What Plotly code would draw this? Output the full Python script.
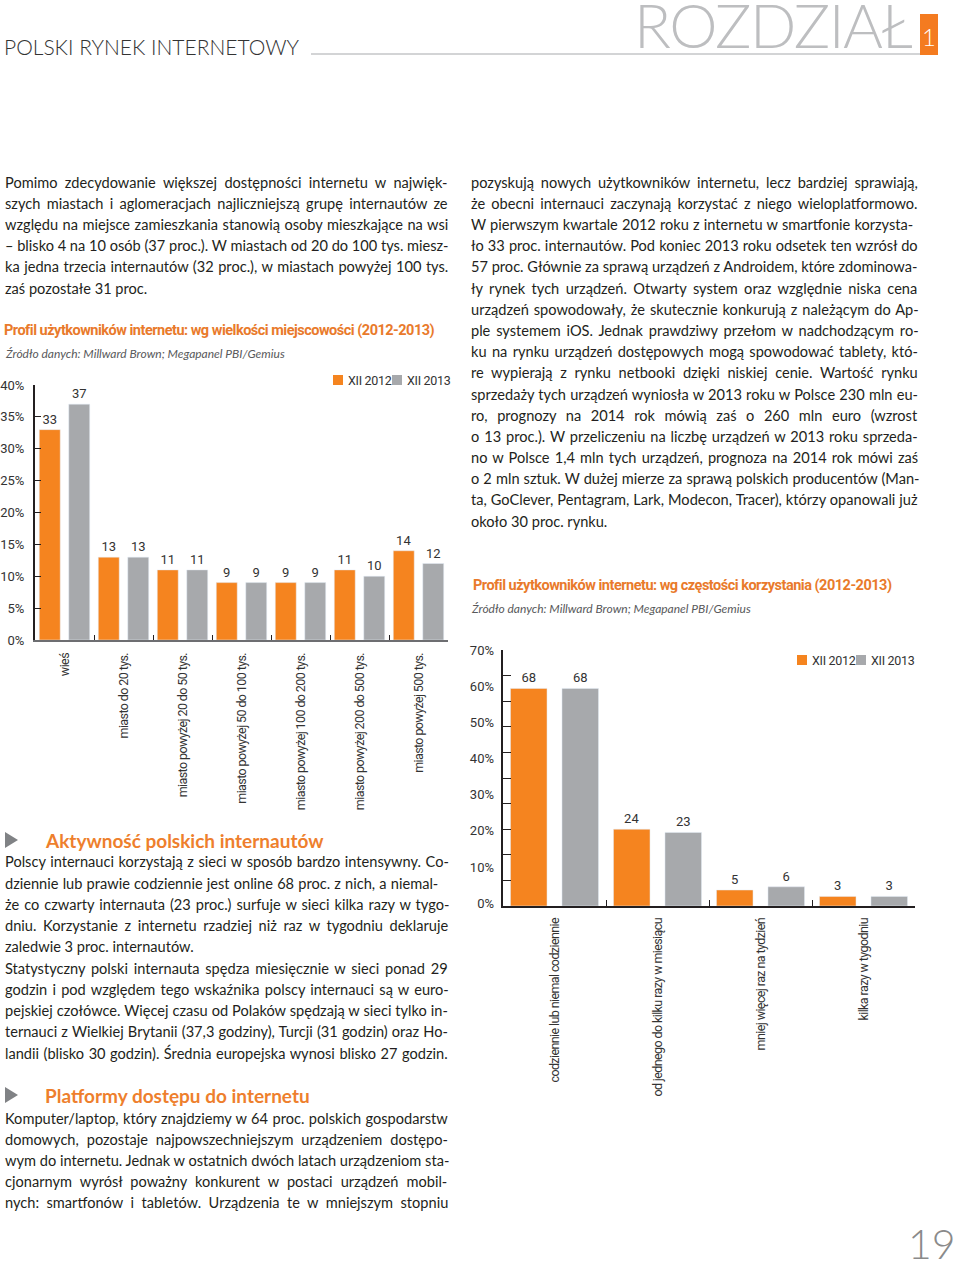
import plotly.graph_objects as go

# ---------------- data ----------------
cat_place = ["wieś", "miasto do 20 tys.", "miasto powyżej 20 do 50 tys.",
             "miasto powyżej 50 do 100 tys.", "miasto powyżej 100 do 200 tys.",
             "miasto powyżej 200 do 500 tys.", "miasto powyżej 500 tys."]
place_2012 = [33, 13, 11, 9, 9, 11, 14]
place_2013 = [37, 13, 11, 9, 9, 10, 12]

cat_freq = ["codziennie lub niemal codziennie", "od jednego do kilku razy w miesiącu",
            "mniej więcej raz na tydzień", "kilka razy w tygodniu"]
freq_2012 = [68, 24, 5, 3]
freq_2013 = [68, 23, 6, 3]

series_names = ["XII 2012", "XII 2013"]
freq_axis_labels = [0, 10, 20, 30, 40, 50, 60, 70]

para_intro = [
    "Pomimo zdecydowanie większej dostępności internetu w najwięk-",
    "szych miastach i aglomeracjach najliczniejszą grupę internautów ze",
    "względu na miejsce zamieszkania stanowią osoby mieszkające na wsi",
    "– blisko 4 na 10 osób (37 proc.). W miastach od 20 do 100 tys. miesz-",
    "ka jedna trzecia internautów (32 proc.), w miastach powyżej 100 tys.",
    "zaś pozostałe 31 proc.",
]
para_right = [
    "pozyskują nowych użytkowników internetu, lecz bardziej sprawiają,",
    "że obecni internauci zaczynają korzystać z niego wieloplatformowo.",
    "W pierwszym kwartale 2012 roku z internetu w smartfonie korzysta-",
    "ło 33 proc. internautów. Pod koniec 2013 roku odsetek ten wzrósł do",
    "57 proc. Głównie za sprawą urządzeń z Androidem, które zdominowa-",
    "ły rynek tych urządzeń. Otwarty system oraz względnie niska cena",
    "urządzeń spowodowały, że skutecznie konkurują z należącym do Ap-",
    "ple systemem iOS. Jednak prawdziwy przełom w nadchodzącym ro-",
    "ku na rynku urządzeń dostępowych mogą spowodować tablety, któ-",
    "re wypierają z rynku netbooki dzięki niskiej cenie. Wartość rynku",
    "sprzedaży tych urządzeń wyniosła w 2013 roku w Polsce 230 mln eu-",
    "ro, prognozy na 2014 rok mówią zaś o 260 mln euro (wzrost",
    "o 13 proc.). W przeliczeniu na liczbę urządzeń w 2013 roku sprzeda-",
    "no w Polsce 1,4 mln tych urządzeń, prognoza na 2014 rok mówi zaś",
    "o 2 mln sztuk. W dużej mierze za sprawą polskich producentów (Man-",
    "ta, GoClever, Pentagram, Lark, Modecon, Tracer), którzy opanowali już",
    "około 30 proc. rynku.",
]
para_activity = [
    "Polscy internauci korzystają z sieci w sposób bardzo intensywny. Co-",
    "dziennie lub prawie codziennie jest online 68 proc. z nich, a niemal-",
    "że co czwarty internauta (23 proc.) surfuje w sieci kilka razy w tygo-",
    "dniu. Korzystanie z internetu rzadziej niż raz w tygodniu deklaruje",
    "zaledwie 3 proc. internautów.",
    "Statystyczny polski internauta spędza miesięcznie w sieci ponad 29",
    "godzin i pod względem tego wskaźnika polscy internauci są w euro-",
    "pejskiej czołówce. Więcej czasu od Polaków spędzają w sieci tylko in-",
    "ternauci z Wielkiej Brytanii (37,3 godziny), Turcji (31 godzin) oraz Ho-",
    "landii (blisko 30 godzin). Średnia europejska wynosi blisko 27 godzin.",
]
para_platforms = [
    "Komputer/laptop, który znajdziemy w 64 proc. polskich gospodarstw",
    "domowych, pozostaje najpowszechniejszym urządzeniem dostępo-",
    "wym do internetu. Jednak w ostatnich dwóch latach urządzeniom sta-",
    "cjonarnym wyrósł poważny konkurent w postaci urządzeń mobil-",
    "nych: smartfonów i tabletów. Urządzenia te w mniejszym stopniu",
]

# ---------------- style ----------------
W, H = 960, 1270
ORANGE = "#F5841F"
GREY = "#A7A9AC"
COLORS = [ORANGE, GREY]
TITLE_OR = "#E97A2B"
TXT = "#231F20"
COND = "Roboto, Liberation Sans, sans-serif"
BODY = "Lato, Open Sans, sans-serif"

# justification: natural right end of each set line (px, Lato 14.6) and column edge;
# None = last line of a paragraph (left ragged)
intro_ends = [426, 430, 442, 448, 440, None]
right_ends = [898, 900, 913, 913, 917, 893, 907, 900, 904, 882, 912, 853, 904, 900, 913, 915, None]
activity_ends = [440, 443, 433, 422, None, 432, 433, 446, 444, 441]
platform_ends = [443, 431, 449, 418, 418]
LEFT_EDGE, RIGHT_EDGE = 448, 917


def px(x):
    return x / W


def py(y):
    return 1 - y / H


def tight(s, ls):
    return f"<span style='letter-spacing:{ls}px'>{s}</span>"


fig = go.Figure()

lab_font = dict(family=COND, size=13, color="#333333")

# chart 1
for name, vals, col in zip(series_names, [place_2012, place_2013], COLORS):
    fig.add_trace(go.Bar(x=cat_place, y=vals, name=name, marker_color=col,
                         text=vals, textposition="outside", textfont=lab_font,
                         cliponaxis=False, xaxis="x", yaxis="y", showlegend=False))
# chart 2
for name, vals, col in zip(series_names, [freq_2012, freq_2013], COLORS):
    fig.add_trace(go.Bar(x=cat_freq, y=vals, name=name, marker_color=col,
                         text=vals, textposition="outside", textfont=lab_font,
                         cliponaxis=False, xaxis="x2", yaxis="y2", showlegend=False))
# invisible helper trace for the labelled percentage axis of chart 2
fig.add_trace(go.Scatter(x=[cat_freq[0]], y=[0], mode="markers", marker_opacity=0,
                         showlegend=False, hoverinfo="skip", xaxis="x2", yaxis="y3"))

tick_font = dict(family=COND, size=12.5, color="#333333")

fig.update_layout(
    width=W, height=H, margin=dict(l=0, r=0, t=0, b=0, autoexpand=False),
    paper_bgcolor="white", plot_bgcolor="white", showlegend=False,
    barmode="group", bargap=0.0, bargroupgap=0.29,
    xaxis=dict(domain=[px(35), px(448)], type="category", tickangle=-90,
               tickvals=cat_place, ticktext=[tight(c, -0.6) for c in cat_place],
               tickson="boundaries", ticks="inside", ticklen=5, tickcolor="#231F20",
               showline=True, linecolor="#6D6E71", linewidth=2, layer="below traces",
               tickfont=tick_font, showgrid=False, ticklabelstandoff=6),
    yaxis=dict(domain=[py(640), py(385)], range=[0, 40], dtick=5, ticksuffix="%",
               ticks="inside", ticklen=6, tickcolor="#231F20",
               showline=True, linecolor="#231F20", linewidth=2, showgrid=False,
               zeroline=False, tickfont=dict(family=COND, size=13, color="#333333"),
               ticklabelstandoff=6),
    xaxis2=dict(domain=[px(503), px(915)], type="category", tickangle=-90,
                tickvals=cat_freq, ticktext=[tight(c, -0.6) for c in cat_freq],
                tickson="boundaries", ticks="inside", ticklen=6, tickcolor="#231F20",
                showline=True, linecolor="#231F20", linewidth=2, layer="below traces",
                tickfont=tick_font, showgrid=False, ticklabelstandoff=5, anchor="y2"),
    yaxis2=dict(domain=[py(906), py(650)], range=[0, 80], dtick=8, tick0=0,
                ticks="inside", ticklen=8, tickcolor="#231F20", showticklabels=False,
                showline=True, linecolor="#231F20", linewidth=2, showgrid=False,
                zeroline=False, anchor="x2"),
    yaxis3=dict(domain=[py(906), py(650)], overlaying="y2", anchor="x2", side="left",
                range=[-0.8, 70], tickvals=freq_axis_labels,
                ticktext=[f"{v}%" for v in freq_axis_labels], ticks="",
                showline=False, showgrid=False, zeroline=False,
                tickfont=dict(family=COND, size=13, color="#333333"), ticklabelstandoff=8),
)

ann = []
shapes = []


def text(x, y, s, size=14.6, color=TXT, family=BODY, anchor="left", weight=None, style=None,
         vanchor="middle"):
    f = dict(family=family, size=size, color=color)
    if weight is not None:
        f["weight"] = weight
    if style is not None:
        f["style"] = style
    ann.append(dict(x=px(x), y=py(y), xref="paper", yref="paper", text=s, showarrow=False,
                    xanchor=anchor, yanchor=vanchor, font=f, borderpad=0))


def lines(block, ends, edge, x, y0, dy=21.2):
    for i, (s, e) in enumerate(zip(block, ends)):
        n = s.count(" ")
        if e is not None and n and e < edge:
            ws = min((edge - e) / n, 9)
            s = f"<span style='word-spacing:{ws:.2f}px'>{s}</span>"
        text(x, y0 + i * dy, s)


def legend(x0, y0, step):
    for i, (name, col) in enumerate(zip(series_names, COLORS)):
        xs = x0 + i * step
        shapes.append(dict(type="rect", xref="paper", yref="paper", x0=px(xs), x1=px(xs + 10),
                           y0=py(y0 + 5), y1=py(y0 - 5), fillcolor=col, line=dict(width=0)))
        text(xs + 14, y0, tight(name, -0.3), size=12.5, color="#333333", family=COND)


# header
text(3, 47, "POLSKI RYNEK INTERNETOWY", size=21, color="#333333", weight=300)
text(913, 24, tight("ROZDZIAŁ", -1.5), size=61, color="#BDBEC0", weight=300, anchor="right")
text(929, 37, "1", size=24, color="white", weight=300, anchor="center")
text(957, 1269, "19", size=41, color="#8A8A8A", weight=300, anchor="right", vanchor="bottom")

# body text
lines(para_intro, intro_ends, LEFT_EDGE, 4, 182)
lines(para_right, right_ends, RIGHT_EDGE, 470, 182)
lines(para_activity, activity_ends, LEFT_EDGE, 4, 862)
lines(para_platforms, platform_ends, LEFT_EDGE, 4, 1118)

# chart titles
text(3, 330, tight("Profil użytkowników internetu: wg wielkości miejscowości (2012-2013)", -0.5),
     size=14.5, color=TITLE_OR, family=COND, weight="bold")
text(4, 353, "Źródło danych: Millward Brown; Megapanel PBI/Gemius", size=12,
     color="#58595B", style="italic")
text(472, 585, tight("Profil użytkowników internetu: wg częstości korzystania (2012-2013)", -0.5),
     size=14.5, color=TITLE_OR, family=COND, weight="bold")
text(470, 608, "Źródło danych: Millward Brown; Megapanel PBI/Gemius", size=12,
     color="#58595B", style="italic")

# legends
legend(333, 380, 59)
legend(797, 660, 59)

# section headings
text(44, 840, "Aktywność polskich internautów", size=19, color="#EE7F2D", weight="bold")
text(44, 1095, "Platformy dostępu do internetu", size=19, color="#EE7F2D", weight="bold")

shapes += [
    dict(type="line", xref="paper", yref="paper", x0=px(311), x1=px(920), y0=py(54), y1=py(54),
         line=dict(color="#A7A9AC", width=1)),
    dict(type="rect", xref="paper", yref="paper", x0=px(920), x1=px(938), y0=py(55), y1=py(14),
         fillcolor="#F47B20", line=dict(width=0), layer="below"),
]
for ty in (840, 1095):
    shapes.append(dict(type="path", xref="paper", yref="paper",
                       path=f"M {px(5)},{py(ty - 8)} L {px(18)},{py(ty)} L {px(5)},{py(ty + 8)} Z",
                       fillcolor="#808285", line=dict(width=0)))

fig.update_layout(annotations=ann, shapes=shapes)

# the page itself should not add its default 8px body margin around the figure
fig.write_html("out.html",
               config={"displayModeBar": False, "staticPlot": True},
               post_script="document.body.style.margin='0';document.body.style.padding='0';")
